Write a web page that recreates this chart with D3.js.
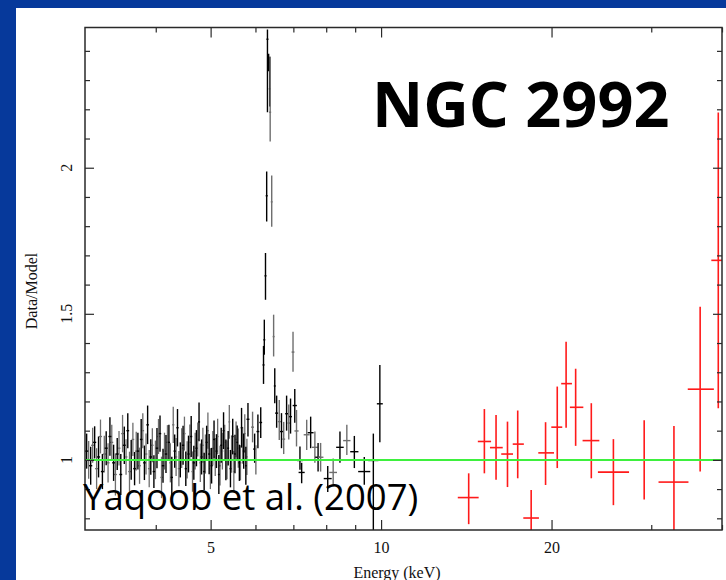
<!DOCTYPE html>
<meta charset="utf-8">
<style>
  body { margin: 0; background: #06399b; }
  svg { display: block; }
</style>
<body>
<script src="https://d3js.org/d3.v7.min.js"></script>
<script>
// XIS spectrum, 3-6 keV continuum (two detectors, black and grey)
const xisE = [3.02,3.07,3.12,3.17,3.22,3.27,3.32,3.37,3.42,3.47,
              3.52,3.57,3.62,3.67,3.72,3.77,3.82,3.87,3.92,3.97,
              4.02,4.07,4.12,4.17,4.22,4.27,4.32,4.37,4.42,4.47,
              4.52,4.57,4.62,4.67,4.72,4.77,4.82,4.87,4.92,4.97,
              5.02,5.07,5.12,5.17,5.22,5.27,5.32,5.37,5.42,5.47,
              5.52,5.57,5.62,5.67,5.72,5.77];
const xisRatio = [1.03,0.98,1.06,1.01,0.96,1.04,1.08,0.99,1.02,0.95,
                  1.05,1.10,1.00,0.97,1.03,1.07,0.99,1.12,1.01,0.96,
                  1.04,1.09,0.98,1.02,1.06,0.94,1.03,1.11,1.00,1.05,
                  0.97,1.02,1.08,0.99,1.04,1.13,1.01,0.96,1.06,1.02,
                  0.98,1.07,1.03,0.95,1.05,1.10,1.00,1.04,0.97,1.08,
                  1.02,1.06,0.99,1.11,1.03,0.98];
const xisErr = [0.06,0.065,0.055,0.07,0.06,0.058,0.066,0.062,0.055,0.07,
                0.064,0.06,0.068,0.057,0.063,0.07,0.059,0.066,0.061,0.056,
                0.069,0.062,0.058,0.065,0.06,0.071,0.057,0.064,0.06,0.067,
                0.059,0.063,0.07,0.058,0.062,0.066,0.06,0.064,0.057,0.069,
                0.061,0.065,0.058,0.067,0.06,0.063,0.07,0.059,0.064,0.061,
                0.066,0.058,0.062,0.068,0.06,0.065];

const xis2E = [3.045,3.095,3.145,3.195,3.245,3.295,3.345,3.395,3.445,3.495,
               3.545,3.595,3.645,3.695,3.745,3.795,3.845,3.895,3.945,3.995,
               4.045,4.095,4.145,4.195,4.245,4.295,4.345,4.395,4.445,4.495,
               4.545,4.595,4.645,4.695,4.745,4.795,4.845,4.895,4.945,4.995,
               5.045,5.095,5.145,5.195,5.245,5.295,5.345,5.395,5.445,5.495,
               5.545,5.595,5.645,5.695,5.745,5.795];
const xis2Ratio = [1.00,1.05,0.97,1.08,1.02,0.99,1.06,0.95,1.04,1.09,
                   1.01,0.96,1.07,1.03,0.98,1.10,1.02,0.97,1.05,1.00,
                   1.08,0.94,1.03,1.06,0.99,1.12,1.01,0.97,1.04,1.09,
                   1.00,1.06,0.96,1.03,1.07,0.99,1.05,1.02,1.10,0.97,
                   1.04,1.01,1.08,0.98,1.03,1.06,1.00,1.13,1.02,0.96,
                   1.07,1.04,0.99,1.05,1.09,1.01];
const xis2Err = [0.065,0.06,0.07,0.058,0.063,0.067,0.06,0.072,0.059,0.064,
                 0.061,0.068,0.057,0.066,0.062,0.06,0.07,0.064,0.058,0.066,
                 0.06,0.071,0.063,0.059,0.067,0.062,0.065,0.06,0.068,0.058,
                 0.064,0.061,0.069,0.063,0.058,0.066,0.06,0.067,0.062,0.07,
                 0.059,0.065,0.061,0.068,0.063,0.06,0.066,0.058,0.064,0.07,
                 0.061,0.067,0.06,0.063,0.066,0.062];

// Fe K region and above, 5.8-10 keV (inst 0 = black, 1 = grey)
const feE    = [5.82,5.93,5.98,6.01,6.06,6.13,6.20,6.22,6.25,6.28,
                6.30,6.33,6.36,6.37,6.41,6.46,6.49,6.54,6.61,6.67,
                6.73,6.81,6.87,6.92,6.99,7.04,7.09,7.19,7.24,7.39,
                7.51,7.64,7.74,7.82,8.05,8.23,8.46,8.70,8.97,9.34,
                9.69,9.95];
const feHalfW = [0.035,0.035,0.035,0.035,0.035,0.035,0.025,0.025,0.025,0.025,
                 0.025,0.025,0.025,0.025,0.025,0.025,0.025,0.04,0.04,0.04,
                 0.04,0.04,0.04,0.04,0.04,0.06,0.06,0.09,0.09,0.09,
                 0.09,0.09,0.09,0.09,0.13,0.13,0.13,0.13,0.15,0.23,
                 0.2,0.12];
const feRatio = [1.139,1.112,1.037,1.00,1.097,1.128,1.325,1.411,1.630,1.904,
                 2.44,2.36,2.27,2.19,1.883,1.422,1.253,1.16,1.131,1.097,
                 1.071,1.158,1.126,1.148,1.369,1.186,1.099,0.998,0.957,1.086,
                 1.093,1.043,1.009,1.009,0.936,0.957,1.043,1.066,1.028,0.96,
                 0.998,1.192];
const feLo = [1.08,1.06,0.99,0.95,1.04,1.075,1.26,1.36,1.548,1.816,
              2.19,2.33,2.21,2.09,1.798,1.354,1.194,1.11,1.068,1.04,
              1.02,1.10,1.07,1.09,1.302,1.127,1.046,0.966,0.92,1.034,
              1.04,0.99,0.96,0.96,0.89,0.91,0.99,1.017,0.972,0.915,
              0.72,1.06];
const feHi = [1.195,1.165,1.09,1.05,1.155,1.18,1.39,1.48,1.708,1.987,
              2.473,2.39,2.38,2.38,1.973,1.497,1.314,1.22,1.205,1.16,
              1.13,1.22,1.19,1.21,1.439,1.243,1.171,1.046,0.99,1.137,
              1.148,1.097,1.058,1.058,0.979,1.005,1.097,1.12,1.082,1.01,
              1.09,1.325];
const feInst = [0,1,0,1,0,0,0,0,0,0,
                0,0,0,1,1,1,0,0,1,0,
                1,0,1,0,1,0,1,0,0,1,
                0,1,0,1,0,1,0,1,0,0,
                0,0];

// HXD/PIN points
const pinE   = [14.28,15.22,15.96,16.72,17.43,18.41,19.52,20.47,21.22,22.06,23.51,25.72,29.15,32.9,36.6,39.4];
const pinELo = [13.66,14.82,15.57,16.30,17.08,17.83,18.95,19.98,20.8,21.55,22.69,24.15,27.41,30.9,34.8,38.3];
const pinEHi = [14.87,15.64,16.40,17.10,17.87,19.0,20.2,20.89,21.73,22.76,24.29,27.41,30.9,34.9,38.7,41];
const pinRatio = [0.871,1.063,1.042,1.020,1.054,0.801,1.024,1.112,1.261,1.180,1.066,0.958,1.0,0.924,1.242,1.683];
const pinLo = [0.780,0.954,0.932,0.907,0.937,0.70,0.914,0.972,1.110,1.048,0.937,0.845,0.864,0.70,0.96,1.177];
const pinHi = [0.954,1.174,1.154,1.131,1.169,0.897,1.129,1.251,1.404,1.312,1.194,1.071,1.136,1.116,1.524,2.189];

const majorX = [5, 10, 20];
const minorX = [4, 6, 7, 8, 9, 30, 40];
const majorY = [1, 1.5, 2];
const minorY = [0.8, 0.9, 1.1, 1.2, 1.3, 1.4, 1.6, 1.7, 1.8, 1.9, 2.1, 2.2, 2.3, 2.4];

let width = 726, height = 580;
let mLeft = 85, mRight = 722, mTop = 27.5, mBottom = 530;

let svg = d3.select("body").append("svg")
    .attr("width", width)
    .attr("height", height);

// white slide panel over the blue background
svg.append("rect")
    .attr("x", 16).attr("y", 8)
    .attr("width", width - 16).attr("height", height - 8)
    .attr("fill", "#fff");

let x = d3.scaleLog().domain([3, 40]).range([mLeft, mRight]);
let y = d3.scaleLinear().domain([0.76, 2.48]).range([mBottom, mTop]);

svg.append("clipPath").attr("id", "plot")
  .append("rect")
    .attr("x", mLeft).attr("y", mTop)
    .attr("width", mRight - mLeft).attr("height", mBottom - mTop);

let plot = svg.append("g").attr("clip-path", "url(#plot)");

function crosses(g, pts, color, w) {
    let sel = g.selectAll(null).data(pts).join("g")
        .attr("stroke", d => color(d))
        .attr("stroke-width", w);
    sel.append("line")
        .attr("x1", d => x(d.e)).attr("x2", d => x(d.e))
        .attr("y1", d => y(d.lo)).attr("y2", d => y(d.hi));
    sel.append("line")
        .attr("x1", d => x(d.e0)).attr("x2", d => x(d.e1))
        .attr("y1", d => y(d.v)).attr("y2", d => y(d.v));
}

let xis = xisE.map((e, i) => ({e: e, e0: e - 0.02, e1: e + 0.02,
    v: xisRatio[i], lo: xisRatio[i] - xisErr[i], hi: xisRatio[i] + xisErr[i], inst: 0}));
let xis2 = xis2E.map((e, i) => ({e: e, e0: e - 0.02, e1: e + 0.02,
    v: xis2Ratio[i], lo: xis2Ratio[i] - xis2Err[i], hi: xis2Ratio[i] + xis2Err[i], inst: 1}));
let fe = feE.map((e, i) => ({e: e, e0: e - feHalfW[i], e1: e + feHalfW[i],
    v: feRatio[i], lo: feLo[i], hi: feHi[i], inst: feInst[i]}));
let pin = pinE.map((e, i) => ({e: e, e0: pinELo[i], e1: pinEHi[i],
    v: pinRatio[i], lo: pinLo[i], hi: pinHi[i]}));

let instColor = d => d.inst ? "#6e6e6e" : "#000";
crosses(plot, xis2, instColor, 1.3);
crosses(plot, xis, instColor, 1.4);
crosses(plot, fe, instColor, 1.4);
crosses(plot, pin, d => "#ff1a1a", 1.6);

// model ratio = 1
plot.append("line")
    .attr("x1", mLeft).attr("x2", mRight)
    .attr("y1", y(1)).attr("y2", y(1))
    .attr("stroke", "#3ef03e")
    .attr("stroke-width", 2);

// frame and inward ticks
let axisColor = "#2a2a2a";
function tickStyle(g) {
    g.select(".domain").remove();
    g.selectAll(".tick line").attr("stroke", axisColor).attr("stroke-width", 1.2);
}
svg.append("g").attr("transform", `translate(0,${mBottom})`)
    .call(d3.axisBottom(x).tickValues(majorX).tickSize(-10).tickPadding(12).tickFormat(d3.format("d")))
    .call(tickStyle)
    .call(g => g.selectAll("text").attr("font-family", "Liberation Serif, serif")
        .attr("font-size", 16).attr("fill", "#111"));
svg.append("g").attr("transform", `translate(0,${mBottom})`)
    .call(d3.axisBottom(x).tickValues(minorX).tickSize(-5).tickFormat(""))
    .call(tickStyle);
svg.append("g").attr("transform", `translate(0,${mTop})`)
    .call(d3.axisTop(x).tickValues(majorX).tickSize(-10).tickFormat(""))
    .call(tickStyle);
svg.append("g").attr("transform", `translate(0,${mTop})`)
    .call(d3.axisTop(x).tickValues(minorX).tickSize(-5).tickFormat(""))
    .call(tickStyle);
svg.append("g").attr("transform", `translate(${mLeft},0)`)
    .call(d3.axisLeft(y).tickValues(majorY).tickSize(-9).tickFormat(""))
    .call(tickStyle);
svg.append("g").attr("transform", `translate(${mLeft},0)`)
    .call(d3.axisLeft(y).tickValues(minorY).tickSize(-5).tickFormat(""))
    .call(tickStyle);
svg.append("g").attr("transform", `translate(${mRight},0)`)
    .call(d3.axisRight(y).tickValues(majorY).tickSize(-9).tickFormat(""))
    .call(tickStyle);
svg.append("g").attr("transform", `translate(${mRight},0)`)
    .call(d3.axisRight(y).tickValues(minorY).tickSize(-5).tickFormat(""))
    .call(tickStyle);

svg.append("rect")
    .attr("x", mLeft).attr("y", mTop)
    .attr("width", mRight - mLeft).attr("height", mBottom - mTop)
    .attr("fill", "none")
    .attr("stroke", axisColor)
    .attr("stroke-width", 1.5);

// rotated y tick labels
svg.selectAll(".ylab").data(majorY).join("text")
    .attr("class", "ylab")
    .attr("transform", d => `translate(72,${y(d)}) rotate(-90)`)
    .attr("text-anchor", "middle")
    .attr("font-family", "Liberation Serif, serif")
    .attr("font-size", 16)
    .attr("fill", "#111")
    .text(d => d);

svg.append("text")
    .attr("transform", "translate(37,291) rotate(-90)")
    .attr("text-anchor", "middle")
    .attr("font-family", "Liberation Serif, serif")
    .attr("font-size", 16)
    .attr("fill", "#111")
    .text("Data/Model");

svg.append("text")
    .attr("x", 397).attr("y", 578)
    .attr("text-anchor", "middle")
    .attr("font-family", "Liberation Serif, serif")
    .attr("font-size", 16)
    .attr("fill", "#111")
    .text("Energy (keV)");

svg.append("text")
    .attr("x", 372).attr("y", 127)
    .attr("font-family", "Open Sans, sans-serif")
    .attr("font-weight", 700)
    .attr("font-size", 63)
    .attr("fill", "#000")
    .text("NGC 2992");

svg.append("text")
    .attr("x", 83).attr("y", 510)
    .attr("font-family", "Open Sans, sans-serif")
    .attr("font-size", 36.5)
    .attr("fill", "#000")
    .text("Yaqoob et al. (2007)");
</script>
</body>
